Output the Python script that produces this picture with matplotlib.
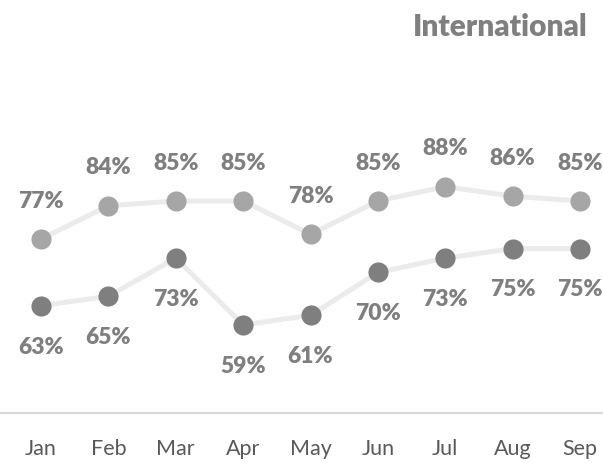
import matplotlib
matplotlib.use('Agg')
import matplotlib.pyplot as plt

months = ['Jan', 'Feb', 'Mar', 'Apr', 'May', 'Jun', 'Jul', 'Aug', 'Sep']
series_top = [77, 84, 85, 85, 78, 85, 88, 86, 85]
series_bottom = [63, 65, 73, 59, 61, 70, 73, 75, 75]
title = 'International'

plt.rcParams['font.family'] = ['Lato', 'DejaVu Sans']

fig = plt.figure(figsize=(6.03, 4.64), dpi=100)
ax = fig.add_axes([0.0, 0.1078, 1.0, 0.806])

x = list(range(len(months)))
line_col = '#ebebeb'
label_col = '#7f7f7f'

ax.plot(x, series_top, color=line_col, lw=3.6, zorder=1)
ax.plot(x, series_bottom, color=line_col, lw=3.6, zorder=1)
ax.scatter(x, series_top, s=14.5**2, color='#a6a6a6', zorder=3, linewidths=0)
ax.scatter(x, series_bottom, s=14.5**2, color='#7f7f7f', zorder=3, linewidths=0)

for xi, v in zip(x, series_top):
    ax.annotate(f'{v}%', xy=(xi, v), xytext=(0, 28), textcoords='offset points',
                ha='center', va='center', fontsize=16.5, fontweight='heavy', color=label_col)
for xi, v in zip(x, series_bottom):
    ax.annotate(f'{v}%', xy=(xi, v), xytext=(0, -29), textcoords='offset points',
                ha='center', va='center', fontsize=16.5, fontweight='heavy', color=label_col)

ax.set_xlim(-0.609, 8.341)
ax.set_ylim(40.5, 119)
ax.set_xticks(x)
ax.set_xticklabels(months, fontsize=15.5, color='#595959')
ax.tick_params(axis='x', length=0, pad=18)
ax.set_yticks([])
for s in ['top', 'right', 'left']:
    ax.spines[s].set_visible(False)
ax.spines['bottom'].set_color('#d9d9d9')
ax.spines['bottom'].set_linewidth(1.5)

fig.text(588 / 603, 1 - 27 / 464, title, ha='right', va='center',
         fontsize=21.5, fontweight='heavy', color=label_col)

fig.savefig('out.png', dpi=100)
